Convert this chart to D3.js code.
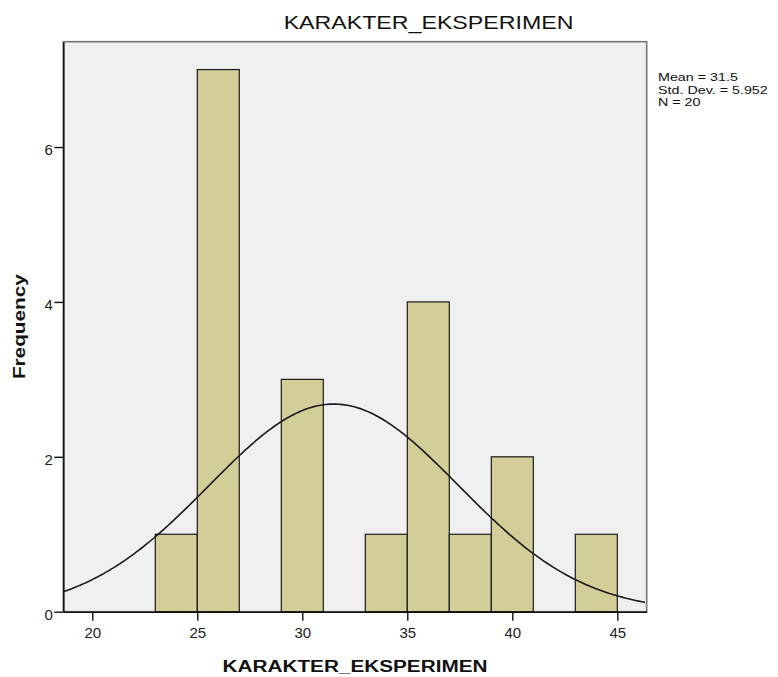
<!DOCTYPE html>
<html lang="en">
<head>
<meta charset="UTF-8">
<title>KARAKTER_EKSPERIMEN</title>
<style>
body { margin: 0; background: #fff; font-family: 'Liberation Sans', Arial, sans-serif; }
#chart { width: 778px; height: 677px; }
.bar { fill: #d3ce98; stroke: #1a1a1a; stroke-width: 1.2; }
.stats { font-size: 11px; fill: #111; }
</style>
</head>
<body>
<div id="chart"></div>
<script src="https://cdnjs.cloudflare.com/ajax/libs/d3/7.8.5/d3.min.js"></script>
<script>

// histogram bins (lower edge) and counts
var binLower = [23, 25, 29, 33, 35, 37, 39, 43];
var frequency = [1, 7, 3, 1, 4, 1, 2, 1];
var binWidth = 2;

var xTicks = [20, 25, 30, 35, 40, 45];
var yTicks = [0, 2, 4, 6];

var statLabels = ['Mean = 31.5', 'Std. Dev. = 5.952', 'N = 20'];
var mean = 31.5;
var sd = 5.952;
var n = 20;

var width = 778;
var height = 677;
var plotL = 63.3, plotR = 646.7, plotT = 41.7, plotB = 611.7;
var sx = 1.22; // text is drawn a bit wide, like the original export

var svg = d3.select('#chart')
  .append('svg')
  .attr('width', width)
  .attr('height', height);

var x = d3.scaleLinear().domain([18.62, 46.4]).range([plotL, plotR]);
var y = d3.scaleLinear().domain([0, 7.36]).range([plotB, plotT]);

// plot background + frame
svg.append('rect')
  .attr('x', plotL).attr('y', plotT)
  .attr('width', plotR - plotL).attr('height', plotB - plotT)
  .attr('fill', '#f0f0f0')
  .attr('stroke', '#777')
  .attr('stroke-width', 1.6);

// bars
var bins = binLower.map(function (d, i) { return { x0: d, x1: d + binWidth, count: frequency[i] }; });

svg.selectAll('.bar')
  .data(bins)
  .enter()
  .append('rect')
  .attr('class', 'bar')
  .attr('x', function (d) { return x(d.x0); })
  .attr('y', function (d) { return y(d.count); })
  .attr('width', function (d) { return x(d.x1) - x(d.x0); })
  .attr('height', function (d) { return y(0) - y(d.count); });

// normal curve scaled to the histogram
function normal(v) {
  return n * binWidth * Math.exp(-0.5 * Math.pow((v - mean) / sd, 2)) / (sd * Math.sqrt(2 * Math.PI));
}
var curvePts = d3.range(x.domain()[0], x.domain()[1] + 0.001, 0.1);
var line = d3.line()
  .x(function (d) { return x(d); })
  .y(function (d) { return y(normal(d)); });

svg.append('path')
  .datum(curvePts)
  .attr('d', line)
  .attr('fill', 'none')
  .attr('stroke', '#1a1a1a')
  .attr('stroke-width', 1.6);

// axes
var xAxis = svg.append('g')
  .attr('transform', 'translate(0,' + plotB + ')')
  .call(d3.axisBottom(x).tickValues(xTicks).tickSize(9).tickSizeOuter(0).tickPadding(7));

var yAxis = svg.append('g')
  .attr('transform', 'translate(' + plotL + ',0)')
  .call(d3.axisLeft(y).tickValues(yTicks).tickSize(9).tickSizeOuter(0).tickPadding(3));

[xAxis, yAxis].forEach(function (ax) {
  ax.select('.domain').attr('stroke', '#111').attr('stroke-width', 1.6);
  ax.selectAll('.tick line').attr('stroke', '#111').attr('stroke-width', 1.4);
  ax.selectAll('.tick text')
    .style('font-family', "'Liberation Sans', Arial, sans-serif")
    .style('font-size', '15px')
    .attr('fill', '#222');
});
yAxis.selectAll('.tick text').attr('dy', '0.5em').attr('dx', '0.1em');
xAxis.selectAll('.tick text').attr('dy', '0.68em');

// text helper: stretched along the text direction
function wideText(px, py, str, size, weight, rot) {
  var g = svg.append('g')
    .attr('transform', 'translate(' + px + ',' + py + ')' + (rot ? ' rotate(' + rot + ')' : '') + ' scale(' + sx + ',1)');
  return g.append('text')
    .attr('text-anchor', 'middle')
    .style('font-size', size + 'px')
    .style('font-weight', weight)
    .attr('fill', '#111')
    .text(str);
}

wideText(428.5, 29.3, 'KARAKTER_EKSPERIMEN', 19, 'normal');
wideText((plotL + plotR) / 2, 671.7, 'KARAKTER_EKSPERIMEN', 17, 'bold');
wideText(25.3, (plotT + plotB) / 2, 'Frequency', 17, 'bold', -90);

// stats box
var statsG = svg.append('g').attr('transform', 'translate(658,0) scale(1.3,1)');
statsG.selectAll('text')
  .data(statLabels)
  .enter()
  .append('text')
  .attr('class', 'stats')
  .attr('x', 0)
  .attr('y', function (d, i) { return 81.2 + i * 12.6; })
  .text(function (d) { return d; });

</script>
</body>
</html>
